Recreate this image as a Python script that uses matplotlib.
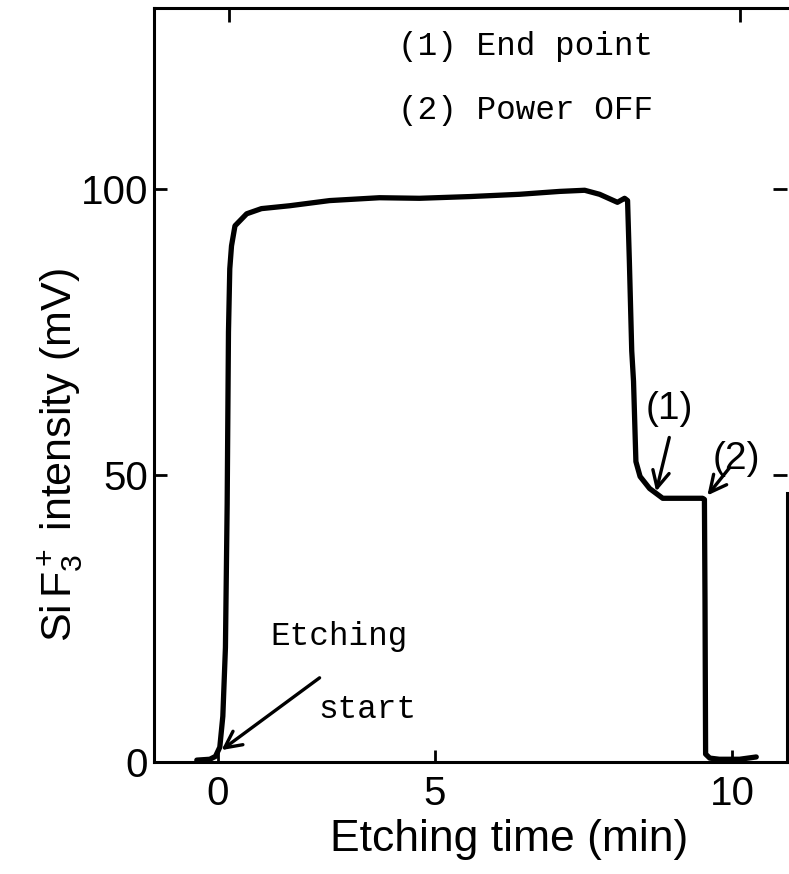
import numpy as np
import matplotlib.pyplot as plt

# SiF3+ signal during etching (time in min, intensity in mV)
time_min = [-0.48, -0.18, -0.05, 0.05, 0.12, 0.18, 0.22, 0.25, 0.28, 0.32,
            0.40, 0.67, 1.01, 1.66, 2.58, 3.73, 4.65, 5.59, 6.43, 7.10,
            7.52, 7.77, 8.07, 8.19, 8.24, 8.27, 8.31, 8.34, 8.38, 8.45,
            8.61, 8.83, 9.11, 9.50, 9.53, 9.54, 9.55, 9.62, 9.78, 10.12, 10.40]
intensity_mv = [0.35, 0.5, 1.0, 2.6, 8.0, 20.0, 45.0, 75.0, 86.0, 90.0,
                93.5, 95.6, 96.5, 97.0, 97.9, 98.4, 98.3, 98.6, 99.0, 99.5,
                99.7, 99.0, 97.6, 98.3, 97.9, 87.4, 71.7, 66.4, 52.4, 49.8,
                47.7, 46.0, 46.0, 46.0, 45.8, 28.0, 1.4, 0.7, 0.5, 0.5, 0.9]

x_ticks = [0, 5, 10]
y_ticks = [0, 50, 100]

# chart recorder axis: the 5-10 min span is drawn wider than 0-5
K = 298 / 217


def fwd(x):
    x = np.asarray(x, dtype=float)
    return np.where(x <= 5, x, 5 + (x - 5) * K)


def inv(y):
    y = np.asarray(y, dtype=float)
    return np.where(y <= 5, y, 5 + (y - 5) / K)


plt.rcParams['font.family'] = ['Liberation Sans', 'DejaVu Sans']
plt.rcParams['mathtext.fontset'] = 'custom'
plt.rcParams['mathtext.rm'] = 'Liberation Sans'
plt.rcParams['mathtext.it'] = 'Liberation Sans'

fig = plt.figure(figsize=(7.89, 8.74), dpi=100)
ax = fig.add_axes([0.195, 0.128, 0.802, 0.863])
ax.set_xscale('function', functions=(fwd, inv))

ax.plot(time_min, intensity_mv, color='black', lw=3.8,
        solid_joinstyle='round', solid_capstyle='round')

ax.set_xlim(-1.47, 10.91)
ax.set_ylim(0, 131.5)
ax.set_xticks(x_ticks)
ax.set_yticks(y_ticks)
ax.set_xticklabels([str(t) for t in x_ticks])
ax.set_yticklabels([str(t) for t in y_ticks])

for s in ax.spines.values():
    s.set_linewidth(2.2)
ax.spines['right'].set_bounds(0, 47)

ax.tick_params(axis='both', direction='in', length=9, width=2,
               labelsize=29, colors='black')
ax.tick_params(axis='x', pad=9)
ax.tick_params(axis='y', pad=4)

# inward ticks on the top and right edges
top = ax.secondary_xaxis('top', functions=(lambda v: v, lambda v: v))
top.set_xticks([0, 10])
top.tick_params(direction='in', length=10, width=2, labelsize=0)
top.set_xticklabels(['', ''])
top.spines['top'].set_visible(False)
right = ax.secondary_yaxis('right', functions=(lambda v: v, lambda v: v))
right.set_yticks([50, 100])
right.tick_params(direction='in', length=10, width=2)
right.set_yticklabels(['', ''])
right.spines['right'].set_visible(False)

ax.set_xlabel('Etching time (min)', fontsize=32)
ax.xaxis.set_label_coords(0.562, -0.103)
ax.xaxis.label.set_va('center')
ax.set_ylabel(r'Si$\,$F$_3^+$ intensity (mV)', fontsize=31)
ax.yaxis.set_label_coords(-0.147, 0.407)
ax.yaxis.label.set_va('center')

mono = dict(family=['Liberation Mono', 'DejaVu Sans Mono'], fontsize=23.5,
            color='black')
ax.text(4.15, 124.7, '(1) End point', va='center', ha='left', **mono)
ax.text(4.15, 113.6, '(2) Power OFF', va='center', ha='left', **mono)
ax.text(2.79, 21.9, 'Etching', va='center', ha='center', **mono)
ax.text(3.46, 9.1, 'start', va='center', ha='center', **mono)

ax.text(8.94, 61.5, '(1)', fontsize=28, ha='center', va='center')
ax.text(10.07, 52.8, '(2)', fontsize=28, ha='center', va='center')

arrow = dict(arrowstyle='->', lw=2.4, color='black', mutation_scale=30,
             shrinkA=0, shrinkB=0)
ax.annotate('', xy=(0.09, 2.1), xytext=(2.35, 14.7), arrowprops=arrow)
ax.annotate('', xy=(8.72, 47.2), xytext=(8.94, 56.6), arrowprops=arrow)
ax.annotate('', xy=(9.58, 46.5), xytext=(9.95, 51.3), arrowprops=arrow)

fig.savefig('out.png', dpi=100)
